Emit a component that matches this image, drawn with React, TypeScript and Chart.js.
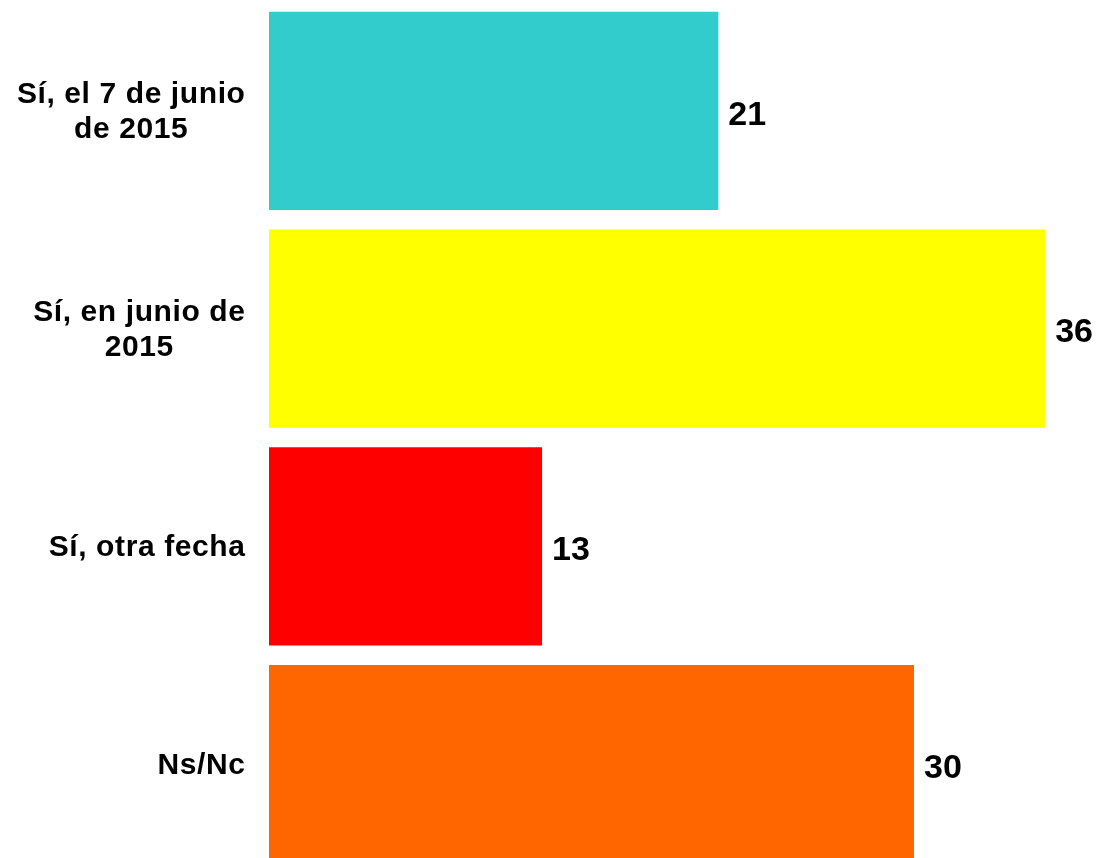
import React, { useEffect, useRef } from "react";
import { Chart, registerables } from "chart.js";

Chart.register(...registerables);

const categories: string[][] = [
  ["Sí, el 7 de junio", "de 2015"],
  ["Sí, en junio de", "2015"],
  ["Sí, otra fecha"],
  ["Ns/Nc"],
];
const values: number[] = [20.9, 36.1, 12.7, 30.0];
const barColors: string[] = ["#33CCCC", "#FFFF00", "#FF0000", "#FF6600"];
const xMax = 38;

const FONT = '"Liberation Sans", Arial, Helvetica, sans-serif';

const labelPlugin = {
  id: "customLabels",
  afterDraw(chart: any) {
    const ctx = chart.ctx as CanvasRenderingContext2D;
    const yScale = chart.scales.y;
    const meta = chart.getDatasetMeta(0);
    ctx.save();
    ctx.fillStyle = "#000000";
    // category labels
    const catSize = 30;
    ctx.font = `bold ${catSize}px ${FONT}`;
    (ctx as any).letterSpacing = "0.6px";
    const lineH = 35;
    const rightX = 245.5;
    categories.forEach((lines, i) => {
      const cy = yScale.getPixelForValue(i);
      const widths = lines.map((l) => ctx.measureText(l).width);
      const blockW = Math.max(...widths);
      const centerX = rightX - blockW / 2;
      const n = lines.length;
      ctx.textAlign = "center";
      ctx.textBaseline = "alphabetic";
      lines.forEach((l, j) => {
        const lineCenter = cy + (j - (n - 1) / 2) * lineH - 1;
        ctx.fillText(l, centerX, lineCenter + catSize * 0.358);
      });
    });
    // value labels
    const valSize = 34;
    ctx.font = `bold ${valSize}px ${FONT}`;
    (ctx as any).letterSpacing = "0px";
    ctx.textAlign = "left";
    ctx.textBaseline = "alphabetic";
    meta.data.forEach((bar: any, i: number) => {
      const txt = String(Math.round(values[i]));
      ctx.fillText(txt, bar.x + 10, bar.y + 1.5 + valSize * 0.358);
    });
    ctx.restore();
  },
};

export default function App() {
  const canvasRef = useRef<HTMLCanvasElement | null>(null);

  useEffect(() => {
    if (!canvasRef.current) return;
    const chart = new Chart(canvasRef.current, {
      type: "bar",
      data: {
        labels: categories.map((c) => c.join(" ")),
        datasets: [
          {
            data: values,
            backgroundColor: barColors,
            borderWidth: 0,
            categoryPercentage: 1,
            barPercentage: 0.91,
          },
        ],
      },
      options: {
        indexAxis: "y",
        responsive: false,
        animation: false,
        layout: { padding: { left: 0, right: 16, top: 2, bottom: 3 } },
        plugins: {
          legend: { display: false },
          tooltip: { enabled: false },
          title: { display: false },
        },
        scales: {
          x: {
            display: false,
            min: 0,
            max: xMax,
          },
          y: {
            display: true,
            ticks: { display: false },
            grid: { display: false },
            border: { display: false },
            afterFit: (scale: any) => {
              scale.width = 269;
            },
          },
        },
      },
      plugins: [labelPlugin],
    });
    return () => chart.destroy();
  }, []);

  return (
    <div
      style={{
        position: "fixed",
        left: 0,
        top: 0,
        width: 1102,
        height: 858,
        overflow: "hidden",
        background: "#ffffff",
      }}
    >
      <canvas ref={canvasRef} width={1102} height={876} style={{ display: "block" }} />
    </div>
  );
}
